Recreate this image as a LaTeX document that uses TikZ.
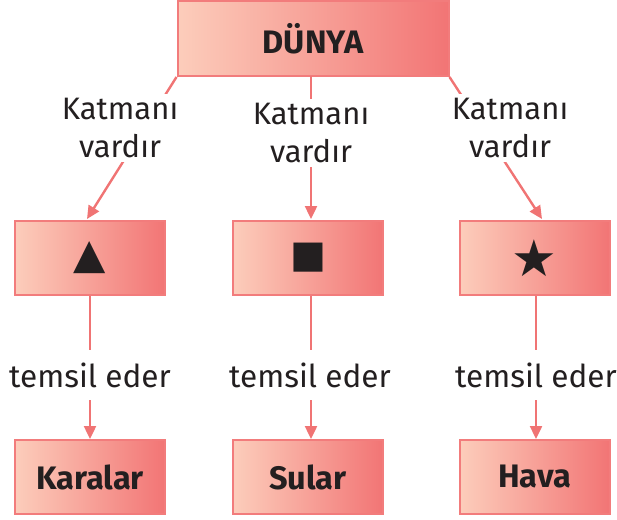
\documentclass[tikz,border=0pt]{standalone}
\usepackage{fontspec}
\setmainfont{Fira Sans}
\newfontfamily\symfont{DejaVu Sans}
\usetikzlibrary{arrows.meta}
\definecolor{lineC}{HTML}{F07474}
\definecolor{borderC}{HTML}{F27C7C}
\definecolor{gradL}{HTML}{FCCDBB}
\definecolor{gradR}{HTML}{F27575}
\definecolor{txtC}{HTML}{231F20}
\tikzset{
  box/.style={draw=borderC, line width=2pt, left color=gradL, right color=gradR,
    minimum width=150pt, minimum height=74pt, inner sep=0pt, text=txtC,
    font=\fontsize{32.5}{34}\selectfont\bfseries},
  lbl/.style={fill=white, text=txtC, align=center, inner xsep=2pt, inner ysep=4pt,
    font=\fontsize{31}{38}\selectfont},
  lbl2/.style={fill=white, text=txtC, inner xsep=2pt, inner ysep=13pt,
    font=\fontsize{31.5}{33}\selectfont},
  conn/.style={draw=lineC, line width=2.4pt, -{Triangle[length=13pt,width=12pt]}},
  sym/.style={text=txtC}
}
\begin{document}
\begin{tikzpicture}[x=1pt,y=-1pt]
\useasboundingbox (0,0) rectangle (617,519);
% boxes
\node[box, minimum width=271pt, minimum height=75pt] (top) at (313,38.5) {DÜNYA};
\node[box] (m1) at (90,258) {\symfont\fontsize{42}{42}\selectfont ▲};
\node[box] (m2) at (308,258) {\symfont\fontsize{38}{38}\selectfont ■};
\node[box] (m3) at (534.5,258) {\symfont\fontsize{51}{51}\selectfont ★};
\node[box] (b1) at (90,477) {Karalar};
\node[box] (b2) at (308,477) {Sular};
\node[box] (b3) at (534.5,477) {Hava};
% arrow tips
\coordinate (t1) at (87,219);
\coordinate (t2) at (311,219);
\coordinate (t3) at (542,219);
\coordinate (s2) at (311,76);
% connectors
\draw[conn] (top.south west) -- (t1);
\draw[conn] (s2) -- (t2);
\draw[conn] (top.south east) -- (t3);
\draw[conn] (m1.south) -- (b1.north);
\draw[conn] ([xshift=3pt]m2.south) -- ([xshift=3pt]b2.north);
\draw[conn] ([xshift=1.5pt]m3.south) -- ([xshift=1.5pt]b3.north);
% labels
\node[lbl] (l1) at (120,128) {Katmanı\\vardır};
\node[lbl] (l2) at (311,133) {Katmanı\\vardır};
\node[lbl] (l3) at (510,128) {Katmanı\\vardır};
\node[lbl2] (e1) at (90,375) {temsil eder};
\node[lbl2] (e2) at (310,375) {temsil eder};
\node[lbl2] (e3) at (536,375) {temsil eder};
\end{tikzpicture}
\end{document}
